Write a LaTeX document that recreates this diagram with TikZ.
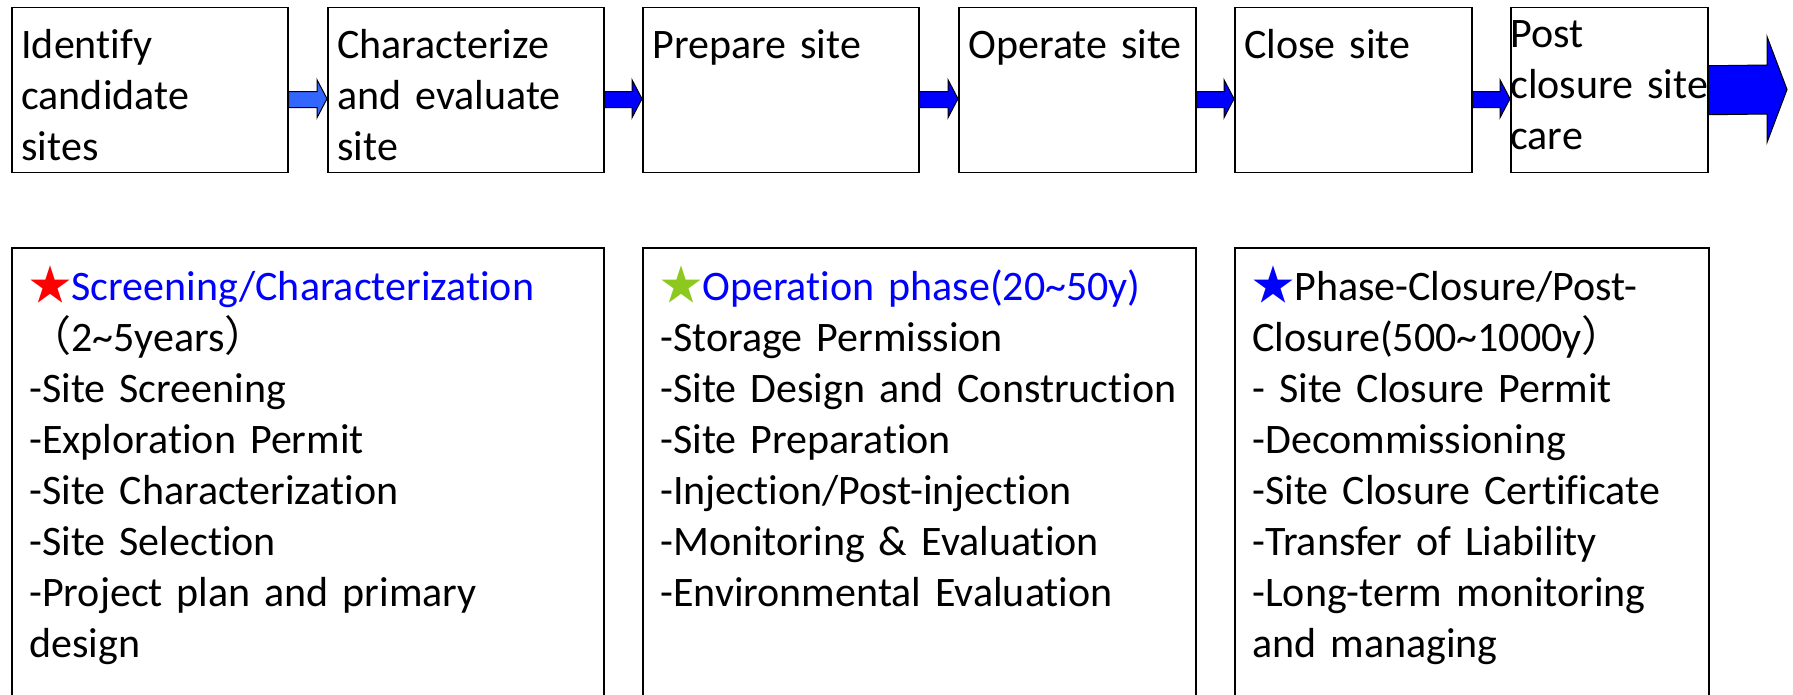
\documentclass[tikz,border=0pt]{standalone}
\usepackage{fontspec}
\setmainfont{Carlito}[Ligatures = NoCommon]
\newfontfamily\cjk{Noto Sans CJK SC}
\usetikzlibrary{calc}

\definecolor{arrowblue}{HTML}{0000FF}
\definecolor{paleblue}{HTML}{3366FF}
\definecolor{stargreen}{HTML}{8CC81E}

\tikzset{
  stage/.style = {draw, line width = 0.75pt, anchor = north west, inner sep = 0pt,
    minimum height = 82.5pt},
  phase/.style = {draw, line width = 1pt, anchor = north west, inner sep = 0pt,
    minimum height = 236.5pt},
  txt/.style = {anchor = base west, inner sep = 0pt, align = left, text width = 300pt,
    font = \fontsize{21pt}{25.5pt}\selectfont},
  arrowedge/.style = {draw = black, line width = 0.5pt}
}

% small block arrow between two stages
\newcommand{\stagearrow}[3][arrowblue]{%
  \draw[arrowedge, fill = #1] ($(#2.east)+(0,1.5)$) -- ($(#3.west)+(-10,1.5)$)
    -- ($(#3.west)+(-10,-10.5)$) -- ($(#3.west)+(0,8.5)$)
    -- ($(#3.west)+(-10,27.5)$) -- ($(#3.west)+(-10,17.5)$)
    -- ($(#2.east)+(0,17.5)$) -- cycle;}

\begin{document}
\begin{tikzpicture}[x = 0.5pt, y = -0.5pt]
\useasboundingbox (0,0) rectangle (1793,695);
\clip (0,0) rectangle (1793,695);

% stages
\node[stage, minimum width = 138pt] (b1) at (11,7) {};
\node[stage, minimum width = 138pt] (b2) at (327,7) {};
\node[stage, minimum width = 138pt] (b3) at (642,7) {};
\node[stage, minimum width = 118.5pt] (b4) at (958,7) {};
\node[stage, minimum width = 118.5pt] (b5) at (1234,7) {};
\node[stage, minimum width = 98.5pt] (b6) at (1510,7) {};

\node[txt] (t1) at ([shift = {(10,52)}]b1.north west) {Identify\\candidate\\sites};
\node[txt] (t2) at ([shift = {(10,52)}]b2.north west) {Characterize\\and evaluate\\site};
\node[txt] (t3) at ([shift = {(10,52)}]b3.north west) {Prepare site};
\node[txt] (t4) at ([shift = {(10,52)}]b4.north west) {Operate site};
\node[txt] (t5) at ([shift = {(10,52)}]b5.north west) {Close site};
\node[txt] (t6) at ([shift = {(0,41)}]b6.north west) {Post\\closure site\\care};

\stagearrow[paleblue]{b1}{b2}
\stagearrow{b2}{b3}
\stagearrow{b3}{b4}
\stagearrow{b4}{b5}
\stagearrow{b5}{b6}

% big arrow out of the last stage
\coordinate (tip) at (1787,89.5);
\draw[arrowedge, fill = arrowblue] ($(b6.east)+(0,-24.5)$) -- ($(tip)+(-20,-24.5)$)
  -- ($(tip)+(-20,-53)$) -- (tip) -- ($(tip)+(-20,53)$) -- ($(tip)+(-20,24.5)$)
  -- ($(b6.east)+(0,24.5)$) -- cycle;

% phases
\node[phase, minimum width = 296pt] (pa) at (11,247) {};
\node[phase, minimum width = 276.5pt] (pb) at (642,247) {};
\node[phase, minimum width = 237pt] (pc) at (1234,247) {};

\node[txt] (ta) at ([shift = {(18,53)}]pa.north west)
  {{\cjk\color{red}★}\textcolor{blue}{Screening/Characterization}\\
   {\cjk （}2\textasciitilde 5years{\cjk ）}\\
   -Site Screening\\
   -Exploration Permit\\
   -Site Characterization\\
   -Site Selection\\
   -Project plan and primary\\
   design};
\node[txt] (tb) at ([shift = {(18,53)}]pb.north west)
  {{\cjk\color{stargreen}★}\textcolor{blue}{Operation phase(20\textasciitilde 50y)}\\
   -Storage Permission\\
   -Site Design and Construction\\
   -Site Preparation\\
   -Injection/Post-injection\\
   -Monitoring \& Evaluation\\
   -Environmental Evaluation};
\node[txt] (tc) at ([shift = {(18,53)}]pc.north west)
  {{\cjk\color{blue}★}Phase-Closure/Post-\\
   Closure(500\textasciitilde 1000y{\cjk ）}\\
   - Site Closure Permit\\
   -Decommissioning\\
   -Site Closure Certificate\\
   -Transfer of Liability\\
   -Long-term monitoring\\
   and managing};
\end{tikzpicture}
\end{document}
